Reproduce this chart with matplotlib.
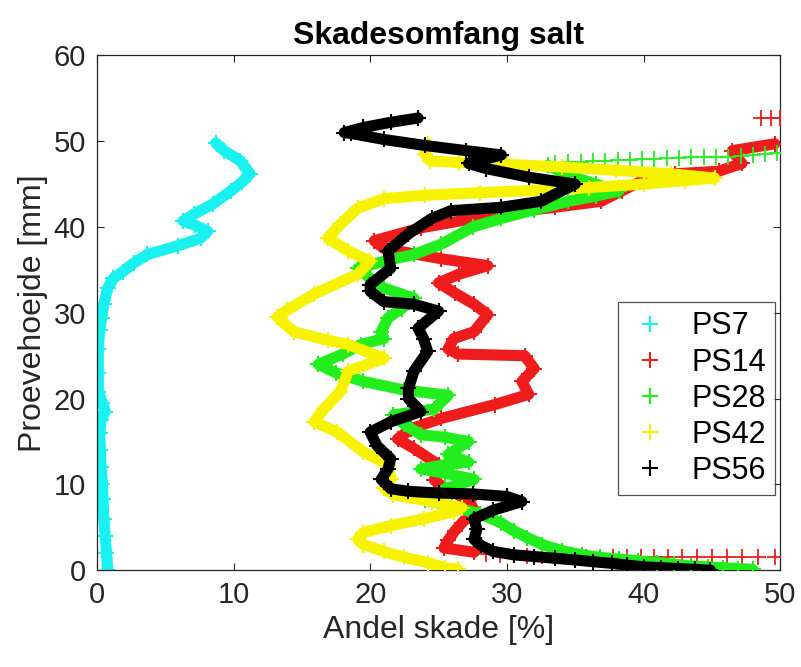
import matplotlib
matplotlib.use("Agg")
import matplotlib.pyplot as plt

plt.rcParams["font.family"] = ["Liberation Sans", "DejaVu Sans"]

# PS7 (cyan)
ps7_x = [0.8, 0.7, 0.6, 0.5, 0.45, 0.4, 0.3, 0.25, 0.2, 0.3, 0.6, 0.4, 0.1, 0.1, 0.1, 0.2,
         0.35, 0.5, 0.8, 1.2, 1.9, 2.7, 3.7, 5.9, 7.6, 8.1, 7.2, 6.3, 7.1, 8.5, 9.8, 10.6,
         11.2, 10.5, 9.3, 8.7]
ps7_y = [0, 2, 4, 6, 8.3, 10, 12, 14, 16, 17.5, 18.5, 19.5, 20.8, 23, 25.8, 28,
         29.4, 31, 32.9, 34, 34.8, 35.8, 36.8, 37.8, 38.7, 39.5, 40.2, 40.7, 41.5, 42.7, 44.2, 45.2,
         46.2, 47.7, 48.9, 49.8]

# PS14 (red)
ps14_x = [27.6, 25.4, 25.7, 26.2, 26.7, 27.6, 27.2, 25.5, 24.7, 25.0, 23.2, 22.0, 23.0, 25.2,
          29.1, 31.6, 31.1, 32.0, 31.3, 26.4, 25.7, 26.1, 27.6, 28.6, 27.6, 26.2, 25.0, 26.5,
          28.6, 25.2, 21.0, 20.3, 23.7, 29.4, 33.5, 36.9, 38.4, 39.9, 42.3, 45.5, 47.2, 46.5, 49.6]
ps14_y = [2.1, 2.6, 3.5, 4.6, 5.5, 7.0, 8.2, 9.5, 10.5, 12.3, 14.2, 15.3, 16.5, 17.7,
          19.3, 20.5, 22.0, 23.5, 25.0, 25.2, 25.8, 27.0, 27.8, 29.8, 31.0, 32.3, 33.5, 34.5,
          35.5, 36.3, 37.5, 38.4, 39.9, 41.5, 42.3, 43.0, 44.2, 45.4, 46.2, 46.5, 47.4, 48.9, 49.7]
ps14_tail_x = [28.5, 29.5, 30.5, 31.5, 32.6, 33.8, 34.8, 35.8, 36.8, 37.8, 38.8, 39.8, 40.8,
               41.8, 42.8, 43.9, 45.0, 46.1, 47.2, 48.4, 49.6, 48.6, 49.3, 50.0]
ps14_tail_y = [1.9, 1.8, 1.8, 1.7, 1.7, 1.7, 1.7, 1.6, 1.6, 1.6, 1.6, 1.6, 1.6,
               1.6, 1.6, 1.6, 1.6, 1.6, 1.6, 1.6, 1.6, 52.7, 52.7, 52.7]

# PS28 (green)
ps28_x = [48.0, 46.9, 45.8, 44.7, 43.5, 42.2, 41.0, 39.6, 38.2, 36.8, 35.5, 34.0, 32.6, 31.5,
          30.5, 29.6, 28.0, 26.0, 24.0, 25.5, 27.6, 25.5, 23.7, 25.5, 27.2, 25.7, 27.2, 25.5,
          23.7, 22.5, 21.7, 24.7, 25.7, 22.5, 19.5, 17.5, 16.2, 18.0, 19.3, 21.0, 20.8, 21.3,
          22.3, 23.2, 21.0, 20.0, 19.1, 21.5, 23.2, 25.2, 27.5, 29.6, 32.0, 34.5, 36.5, 38.2,
          36.5, 34.5, 33.0]
ps28_y = [0.1, 0.2, 0.3, 0.4, 0.5, 0.7, 0.9, 1.1, 1.3, 1.5, 1.8, 2.3, 3.0, 3.8,
          4.6, 5.5, 6.6, 7.4, 8.2, 9.5, 10.6, 11.3, 11.8, 12.3, 12.6, 13.5, 15.0, 15.5,
          15.8, 17.0, 18.1, 18.8, 20.4, 21.0, 22.0, 23.0, 24.0, 25.2, 26.3, 27.0, 27.8, 29.4,
          30.5, 31.7, 32.9, 34.0, 35.2, 36.2, 36.8, 38.0, 40.0, 41.0, 42.0, 43.0, 43.6, 44.2,
          45.0, 46.0, 47.2]
ps28_top_x = [33.5, 34.5, 35.4, 36.3, 37.2, 38.1, 39.0, 39.9, 40.8, 41.7, 42.6, 43.5, 44.4,
              45.3, 46.2, 47.1, 48.0, 48.9, 49.8]
ps28_top_y = [47.5, 47.6, 47.6, 47.7, 47.7, 47.8, 47.8, 47.9, 47.9, 48.0, 48.0, 48.1, 48.1,
              48.2, 48.2, 48.3, 48.4, 48.5, 48.6]

# PS42 (yellow)
ps42_x = [26.4, 25.5, 24.2, 22.5, 21.0, 19.5, 19.1, 19.5, 21.5, 23.9, 26.1, 26.7, 24.5, 21.7,
          21.0, 21.5, 21.3, 19.5, 17.6, 15.9, 16.6, 17.8, 18.4, 21.0, 18.4, 16.9, 14.4, 13.2,
          13.9, 15.9, 19.1, 20.0, 18.4, 16.9, 17.8, 19.1, 21.0, 24.0, 28.0, 32.5, 36.0, 40.0,
          43.0, 45.2, 42.0, 38.0, 34.0, 30.0, 26.5, 24.4, 24.0, 24.2]
ps42_y = [0.1, 0.3, 0.9, 1.5, 2.2, 3.0, 3.6, 4.4, 5.2, 6.0, 6.8, 7.3, 8.0, 8.8,
          9.6, 10.6, 12.3, 13.8, 16.1, 17.3, 18.8, 20.8, 23.2, 24.7, 26.3, 26.8, 27.8, 29.5,
          30.3, 32.2, 34.5, 36.0, 37.2, 38.7, 40.3, 42.2, 43.3, 43.7, 44.0, 44.3, 44.6, 45.0,
          45.4, 45.7, 46.2, 46.6, 47.0, 47.3, 47.5, 47.7, 48.5, 49.7]

# PS56 (black)
ps56_x = [44.9, 43.8, 42.5, 41.3, 40.0, 38.8, 37.7, 36.3, 35.0, 33.5, 32.0, 30.5, 29.0, 28.1,
          27.6, 27.8, 27.6, 29.0, 31.1, 30.0, 27.5, 25.0, 22.8, 21.5, 20.8, 21.3, 21.5, 20.5,
          20.0, 21.5, 23.7, 22.8, 22.8, 23.2, 24.2, 23.9, 23.5, 25.0, 23.2, 21.0, 20.0, 20.0,
          21.5, 21.3, 22.8, 24.5, 25.9, 29.6, 32.5, 35.0, 31.6, 28.5, 27.2, 29.6, 27.0, 24.0,
          21.0, 18.6, 18.1, 19.5, 21.5, 23.5]
ps56_y = [0.0, 0.1, 0.2, 0.3, 0.4, 0.6, 0.8, 1.0, 1.2, 1.4, 1.6, 1.8, 2.2, 2.9,
          3.6, 4.8, 6.0, 7.0, 8.0, 8.6, 8.9, 9.0, 9.2, 9.5, 10.6, 11.8, 13.0, 14.5,
          16.1, 17.3, 18.5, 20.0, 21.2, 23.2, 25.5, 27.0, 28.2, 30.2, 31.0, 31.3, 32.5, 33.3,
          35.2, 37.2, 39.2, 41.0, 41.9, 42.3, 43.0, 45.0, 45.8, 46.8, 47.4, 48.4, 48.9, 49.5,
          50.2, 50.9, 51.0, 51.6, 52.2, 52.7]

labels = ["PS7", "PS14", "PS28", "PS42", "PS56"]
colors = ["#19F0F0", "#EE1C1C", "#22EE1E", "#F6F200", "#000000"]

fig = plt.figure(figsize=(8.01, 6.67), dpi=100)
ax = fig.add_axes([0.121, 0.145, 0.853, 0.772])

series = [(ps7_x, ps7_y), (ps14_x, ps14_y), (ps28_x, ps28_y), (ps42_x, ps42_y), (ps56_x, ps56_y)]
extras = {1: (ps14_tail_x, ps14_tail_y), 2: (ps28_top_x, ps28_top_y)}

for i, ((x, y), c, lab) in enumerate(zip(series, colors, labels)):
    ax.plot(x, y, "-", color=c, lw=8, solid_joinstyle="round", solid_capstyle="round", zorder=2 + i)
    ax.plot(x, y, "+", color=c, ms=12, mew=1.5, label=lab, zorder=2 + i)
    if i in extras:
        ex, ey = extras[i]
        ax.plot(ex, ey, "+", color=c, ms=11, mew=1.3, zorder=2 + i)

ax.set_xlim(0, 50)
ax.set_ylim(0, 60)
ax.set_xticks([0, 10, 20, 30, 40, 50])
ax.set_yticks([0, 10, 20, 30, 40, 50, 60])
ax.tick_params(direction="in", length=5, width=0.8, top=True, right=True,
               labelsize=21, colors="#262626", pad=8)
for s in ax.spines.values():
    s.set_color("#262626")
    s.set_linewidth(0.9)

ax.set_title("Skadesomfang salt", fontsize=23, fontweight="bold", pad=8)
ax.set_xlabel("Andel skade [%]", fontsize=23, color="#262626", labelpad=4)
ax.set_ylabel("Proevehoejde [mm]", fontsize=23, color="#262626", labelpad=4)

leg = ax.legend(loc="lower right", bbox_to_anchor=(0.993, 0.146), fontsize=22,
                frameon=True, fancybox=False, edgecolor="#262626", borderpad=0.3,
                handlelength=1.5, handletextpad=0.6, labelspacing=0.2, borderaxespad=0)
leg.get_frame().set_linewidth(0.9)

fig.savefig("out.png", dpi=100)
